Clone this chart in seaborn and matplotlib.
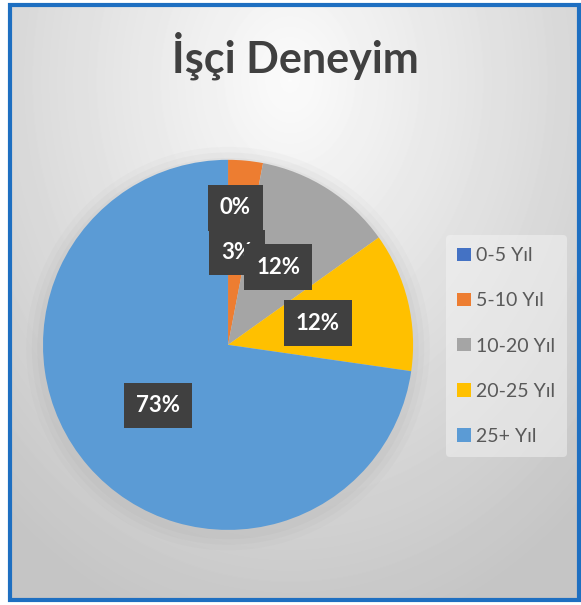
import numpy as np
import matplotlib
matplotlib.use('Agg')
import matplotlib.pyplot as plt
import seaborn as sns
from matplotlib.patches import Rectangle, Circle

title = 'İşçi Deneyim'
labels = ['0-5 Yıl', '5-10 Yıl', '10-20 Yıl', '20-25 Yıl', '25+ Yıl']
counts = [0, 1, 4, 4, 24]
colors = ['#4472C4', '#ED7D31', '#A5A5A5', '#FFC000', '#5B9BD5']

sns.set_theme(style='white')
plt.rcParams['font.family'] = ['Lato', 'DejaVu Sans']

W, H = 581, 605
fig = plt.figure(figsize=(W / 100, H / 100), dpi=100)
fig.patch.set_facecolor('white')

# framed panel with soft grey gradient
x0, x1 = 10 / W, 579 / W
y0, y1 = 1 - 600 / H, 1 - 5 / H
bg = fig.add_axes([x0, y0, x1 - x0, y1 - y0], zorder=0)
yy, xx = np.mgrid[0:595, 0:569]
d = np.sqrt(((xx - 280) / 430) ** 2 + ((yy - 75) / 560) ** 2)
v = np.clip(0.985 - 0.21 * d, 0.77, 1)
bg.imshow(v, cmap='gray', vmin=0, vmax=1, aspect='auto', interpolation='bilinear')
bg.axis('off')
fig.add_artist(Rectangle((x0, y0), x1 - x0, y1 - y0, transform=fig.transFigure,
                         fill=False, edgecolor='#1e6fc1', linewidth=3, zorder=10))

fig.text(295 / W, 1 - 72 / H, title, ha='center', va='baseline',
         fontsize=31, fontweight='bold', color='#404040')

# pie
ax = fig.add_axes([0.074, 0.124, 0.637, 0.612], zorder=2)
ax.patch.set_alpha(0)
for r, a in zip([1.09, 1.06, 1.03], [0.04, 0.05, 0.06]):
    ax.add_patch(Circle((0, -0.02), r, facecolor='#888888', alpha=a, lw=0,
                        zorder=0, clip_on=False))

wedges, texts, autotexts = ax.pie(
    counts, colors=colors, startangle=90, counterclock=False,
    autopct=lambda p: f'{p:.0f}%', pctdistance=0.5,
    wedgeprops=dict(linewidth=0),
    textprops=dict(color='white', fontweight='bold', fontsize=16))
for t in autotexts:
    t.set_bbox(dict(boxstyle='square,pad=0.55', facecolor='#404040', edgecolor='none'))
# the empty slice label is pushed outward so it doesn't sit on the 3% one
px, py = autotexts[0].get_position()
autotexts[0].set_position((px + 0.04, py * 1.48))
ax.set_xlim(-1, 1)
ax.set_ylim(-1, 1)
ax.set_aspect('equal')
ax.axis('off')

leg = fig.legend(wedges, labels, loc='center left',
                 bbox_to_anchor=(436 / W, 1 - 346 / H),
                 fontsize=14, labelspacing=1.45, handlelength=0.68,
                 handleheight=0.68, handletextpad=0.3, borderpad=0.6,
                 frameon=True, facecolor='#f4f4f4', edgecolor='none', framealpha=0.5)
for t in leg.get_texts():
    t.set_color('#595959')

fig.savefig('out.png', dpi=100)
